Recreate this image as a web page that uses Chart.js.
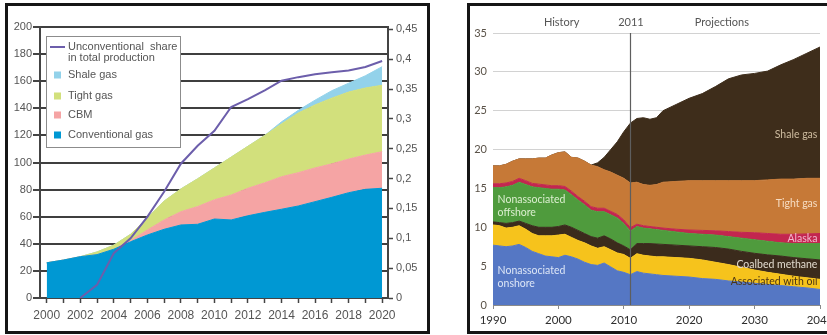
<!DOCTYPE html>
<html><head><meta charset="utf-8">
<script src="https://cdn.jsdelivr.net/npm/chart.js@4"></script>
<style>
html,body{margin:0;padding:0;background:#fff;overflow:hidden;width:827px;height:335px;}
.panel{position:absolute;border:3px solid #151515;background:#fff;overflow:hidden;}
#p1{left:5px;top:3px;width:419px;height:325px;}
#p2{left:467px;top:3px;width:400px;height:325px;}
canvas{display:block;}
</style></head><body>
<div id="p1" class="panel"><canvas id="c1" width="419" height="325"></canvas></div>
<div id="p2" class="panel"><canvas id="c2" width="380" height="325"></canvas></div>
<script>
// ---------- Left chart data ----------
const leftYears    = [2000,2001,2002,2003,2004,2005,2006,2007,2008,2009,2010,2011,2012,2013,2014,2015,2016,2017,2018,2019,2020];
const conventional = [26,28,30.5,32,36,41.5,46.5,50.7,53.9,54.4,58.3,57.6,60.7,63.2,65.5,67.9,71.1,74.3,77.7,80.2,81];
const cbm          = [0,0,0,0,0,0.8,3.7,6.9,9.8,13.1,14.2,18.4,20.3,21.8,24,24.6,24.9,24.7,24.8,25.3,27];
const tightLeft    = [0,0,0,2,3,4.7,8.8,13.9,16.8,20.5,23.5,28,31,35,39,44,46.5,48.5,49.5,49.5,49];
const shaleLeft    = [0,0,0,0,0,0,0,0,0,0,0,0,0,0,1.5,2,3.5,5.5,6.5,9,13.7];
const shareYears   = [2002,2003,2004,2005,2006,2007,2008,2009,2010,2011,2012,2013,2014,2015,2016,2017,2018,2019,2020];
const shareValues  = [0,0.022,0.075,0.10,0.136,0.178,0.225,0.255,0.28,0.32,0.333,0.348,0.364,0.370,0.375,0.378,0.381,0.387,0.397];
const shareTicks   = [0,0.05,0.1,0.15,0.2,0.25,0.3,0.35,0.4,0.45];
const shareLabel   = ['Unconventional  share','in total production'];

// ---------- Right chart data ----------
const rightYears = [1990,1991,1992,1993,1994,1995,1996,1997,1998,1999,2000,2001,2002,2003,2004,2005,2006,2007,2008,2009,2010,2011,2012,2013,2014,2015,2016,2018,2020,2022,2024,2026,2028,2030,2032,2034,2036,2038,2040];
const onshore   = [7.7,7.6,7.5,7.6,7.8,7.4,6.9,6.6,6.3,6.2,6.1,6.4,6.2,5.9,5.5,5.2,5.1,5.4,4.9,4.4,4.2,3.9,4.3,4.1,4.0,3.9,3.8,3.7,3.6,3.4,3.3,3.1,2.95,2.8,2.65,2.5,2.35,2.2,2.0];
const assocOil  = [2.6,2.6,2.4,2.4,2.4,2.35,2.3,2.3,2.6,2.7,2.9,2.7,2.5,2.4,2.5,2.4,2.2,2.1,2.2,2.3,2.3,2.1,2.3,2.3,2.3,2.3,2.4,2.4,2.4,2.4,2.2,2.1,1.9,1.7,1.55,1.45,1.35,1.3,1.3];
const coalbed   = [0.4,0.4,0.6,0.6,0.6,0.75,1.0,1.1,1.1,1.1,1.1,1.2,1.3,1.3,1.2,1.2,1.3,1.4,1.4,1.3,1.1,1.1,1.3,1.5,1.6,1.65,1.6,1.6,1.6,1.7,1.9,2.0,2.05,2.15,2.25,2.35,2.4,2.45,2.5];
const offshore  = [4.4,4.5,4.7,4.8,5.0,5.0,5.0,5.1,5.0,4.9,4.8,4.5,4.2,3.9,3.7,3.4,3.4,3.1,3.1,3.2,2.9,2.4,2.2,2.0,1.9,1.85,1.8,1.7,1.6,1.6,1.6,1.6,1.7,1.75,1.75,1.7,1.8,1.95,2.1];
const alaska    = [0.5,0.5,0.5,0.5,0.5,0.5,0.45,0.45,0.45,0.45,0.45,0.45,0.45,0.45,0.45,0.45,0.45,0.45,0.45,0.45,0.45,0.45,0.3,0.3,0.3,0.3,0.3,0.35,0.45,0.5,0.55,0.65,0.75,0.9,1.0,1.1,1.2,1.25,1.3];
const tightGas  = [2.3,2.3,2.4,2.6,2.5,2.8,3.15,3.35,3.45,3.95,4.25,4.45,4.35,4.95,5.15,5.35,5.35,4.95,5.05,5.05,5.35,5.75,5.4,5.3,5.3,5.5,5.9,6.15,6.35,6.4,6.45,6.55,6.65,6.7,6.9,7.1,7.1,7.15,7.1];
const shaleGas  = [0,0,0,0,0,0,0,0,0,0,0,0,0,0,0,0,0.5,1.6,2.9,4.3,6.0,7.7,8.2,8.6,8.5,8.6,9.2,9.9,10.6,11.2,12.1,13.1,13.6,13.8,14.0,14.7,15.4,16.1,16.9];
const markerYear = 2011;
const headerTexts = [
  {text:'History', x:2000.5},
  {text:'2011', x:2011.1},
  {text:'Projections', x:2025}
];
const areaLabels = [
  {text:'Shale gas', x:2039.6, y:21.9, align:'right', color:'#cdbb9f'},
  {text:'Tight gas', x:2039.6, y:13.0, align:'right', color:'#f6dcc2'},
  {text:'Alaska', x:2039.6, y:8.6, align:'right', color:'#f2b8cf'},
  {text:'Coalbed methane', x:2039.6, y:5.15, align:'right', color:'#e2dace'},
  {text:'Associated with oil', x:2039.6, y:3.0, align:'right', color:'#4b3514'},
  {text:'Nonassociated', x:1990.7, y:13.5, align:'left', color:'#dcefd0'},
  {text:'offshore', x:1990.7, y:11.9, align:'left', color:'#dcefd0'},
  {text:'Nonassociated', x:1990.7, y:4.4, align:'left', color:'#dde6f6'},
  {text:'onshore', x:1990.7, y:2.8, align:'left', color:'#dde6f6'}
];

const pts = (xs, ys) => xs.map((x,i)=>({x, y: ys[i]}));

// ---------- Left chart ----------
const leftFont = {family:'"Liberation Sans", Arial, sans-serif', size:11};
const legendBox = {
  id:'legendBox',
  afterDraw(chart){
    const {ctx, chartArea:a} = chart;
    const x0 = a.left+6, y0 = a.top+9, w = 134, h = 111;
    ctx.save();
    ctx.fillStyle = '#fff';
    ctx.fillRect(x0, y0, w, h);
    ctx.strokeStyle = '#8c8c8c'; ctx.lineWidth = 1;
    ctx.strokeRect(x0+0.5, y0+0.5, w, h);
    ctx.font = '11px "Liberation Sans", Arial, sans-serif';
    ctx.fillStyle = '#555'; ctx.textBaseline = 'middle'; ctx.textAlign = 'left';
    const ds = chart.data.datasets;
    ctx.strokeStyle = ds[0].borderColor; ctx.lineWidth = 2;
    ctx.beginPath(); ctx.moveTo(x0+4, y0+11); ctx.lineTo(x0+19, y0+11); ctx.stroke();
    ctx.fillText(ds[0].label[0], x0+22, y0+11);
    ctx.fillText(ds[0].label[1], x0+22, y0+22);
    const rows = [[4,39],[3,60],[2,79],[1,99]];
    rows.forEach(([i,dy])=>{
      ctx.fillStyle = ds[i].backgroundColor;
      ctx.fillRect(x0+8, y0+dy-3.5, 7, 7);
      ctx.fillStyle = '#555';
      ctx.fillText(ds[i].label, x0+22, y0+dy);
    });
    ctx.restore();
  }
};
const area = (label, xs, ys, color, fill) => ({
  label, data: pts(xs, ys), yAxisID:'y', backgroundColor: color, borderColor: color,
  borderWidth: 1, pointRadius: 0, tension: 0, fill
});
new Chart(document.getElementById('c1'), {
  type:'line',
  data:{datasets:[
    {label: shareLabel, data: pts(shareYears, shareValues), yAxisID:'y2', borderColor:'#6c5eab', borderWidth:2, pointRadius:0, fill:false, tension:0},
    area('Conventional gas', leftYears, conventional, '#0098d3', 'origin'),
    area('CBM', leftYears, cbm, '#f5a4a4', '-1'),
    area('Tight gas', leftYears, tightLeft, '#d2e07c', '-1'),
    area('Shale gas', leftYears, shaleLeft, '#93d2ea', '-1')
  ]},
  options:{
    responsive:false, animation:false, devicePixelRatio:1,
    layout:{padding:{top:21,left:0,right:0,bottom:0}},
    plugins:{legend:{display:false}, tooltip:{enabled:false}},
    scales:{
      x:{type:'linear', min:1999.6, max:2020.35,
        afterBuildTicks:s=>{ s.ticks = leftYears.map(v=>({value:v})); },
        ticks:{autoSkip:false, maxRotation:0, callback:v=> v%2===0 ? String(v) : '', font:{family:leftFont.family, size:12}, color:'#555', padding:5},
        grid:{drawOnChartArea:false, tickLength:5, tickColor:'#444', tickWidth:1.5},
        border:{color:'#444', width:2},
        afterFit:s=>{ s.height = 33; }},
      y:{stacked:true, min:0, max:200,
        ticks:{stepSize:20, font:leftFont, color:'#555', padding:1},
        grid:{color:'#3f3f3f', lineWidth:2, tickLength:7, tickColor:'#444'},
        border:{color:'#444', width:2},
        afterFit:s=>{ s.width = 32; }},
      y2:{position:'right', min:0, max:0.454,
        afterBuildTicks:s=>{ s.ticks = shareTicks.map(v=>({value:v})); },
        ticks:{font:leftFont, color:'#555', padding:3,
          callback:v=> v===0 ? '0' : String(Math.round(v*100)/100).replace('.',',')},
        grid:{drawOnChartArea:false, tickLength:5, tickColor:'#444', tickWidth:1.5},
        border:{color:'#444', width:2},
        afterFit:s=>{ s.width = 39; }}
    }
  },
  plugins:[legendBox]
});

// ---------- Right chart ----------
const rFont = {family:'Lato, "Open Sans", sans-serif', size:11};
const annotations = {
  id:'annotations',
  afterDatasetsDraw(chart){
    const {ctx, chartArea:a, scales:{x, y}} = chart;
    ctx.save();
    const mx = Math.round(x.getPixelForValue(markerYear)) + 0.5;
    ctx.strokeStyle = '#5e5e5e'; ctx.lineWidth = 1.2;
    ctx.beginPath(); ctx.moveTo(mx, a.top); ctx.lineTo(mx, a.bottom); ctx.stroke();
    ctx.textBaseline = 'middle';
    ctx.font = '11px Lato, "Open Sans", sans-serif';
    ctx.fillStyle = '#555'; ctx.textAlign = 'center';
    headerTexts.forEach(t => ctx.fillText(t.text, x.getPixelForValue(t.x), a.top - 11));
    ctx.font = '10.5px Lato, "Open Sans", sans-serif';
    areaLabels.forEach(t => {
      ctx.fillStyle = t.color; ctx.textAlign = t.align;
      ctx.fillText(t.text, x.getPixelForValue(t.x), y.getPixelForValue(t.y));
    });
    ctx.restore();
  }
};
const rArea = (label, ys, color, fill) => ({
  label, data: pts(rightYears, ys), backgroundColor: color, borderColor: color,
  borderWidth: 1, pointRadius: 0, tension: 0, fill
});
new Chart(document.getElementById('c2'), {
  type:'line',
  data:{datasets:[
    rArea('Nonassociated onshore', onshore, '#5577c4', 'origin'),
    rArea('Associated with oil', assocOil, '#f6c31c', '-1'),
    rArea('Coalbed methane', coalbed, '#3b2b1c', '-1'),
    rArea('Nonassociated offshore', offshore, '#4f9b3d', '-1'),
    rArea('Alaska', alaska, '#c3264f', '-1'),
    rArea('Tight gas', tightGas, '#c67937', '-1'),
    rArea('Shale gas', shaleGas, '#3e2d1b', '-1')
  ]},
  options:{
    responsive:false, animation:false, devicePixelRatio:1,
    layout:{padding:{top:27,left:0,right:30,bottom:0}},
    plugins:{legend:{display:false}, tooltip:{enabled:false}},
    scales:{
      x:{type:'linear', min:1990, max:2040,
        ticks:{stepSize:10, autoSkip:false, maxRotation:0, callback:v=>String(v), font:{family:rFont.family, size:11.5}, color:'#2e2e2e', padding:4},
        grid:{drawOnChartArea:false, tickLength:4, tickColor:'#8a8a8a'},
        border:{color:'#8a8a8a', width:1},
        afterFit:s=>{ s.height = 26; }},
      y:{stacked:true, min:0, max:35,
        ticks:{stepSize:5, font:rFont, color:'#5a5248', padding:6},
        grid:{color:'#d2d2d2', lineWidth:1, drawTicks:false},
        border:{display:false},
        afterFit:s=>{ s.width = 23; }}
    }
  },
  plugins:[annotations]
});
</script></body></html>
